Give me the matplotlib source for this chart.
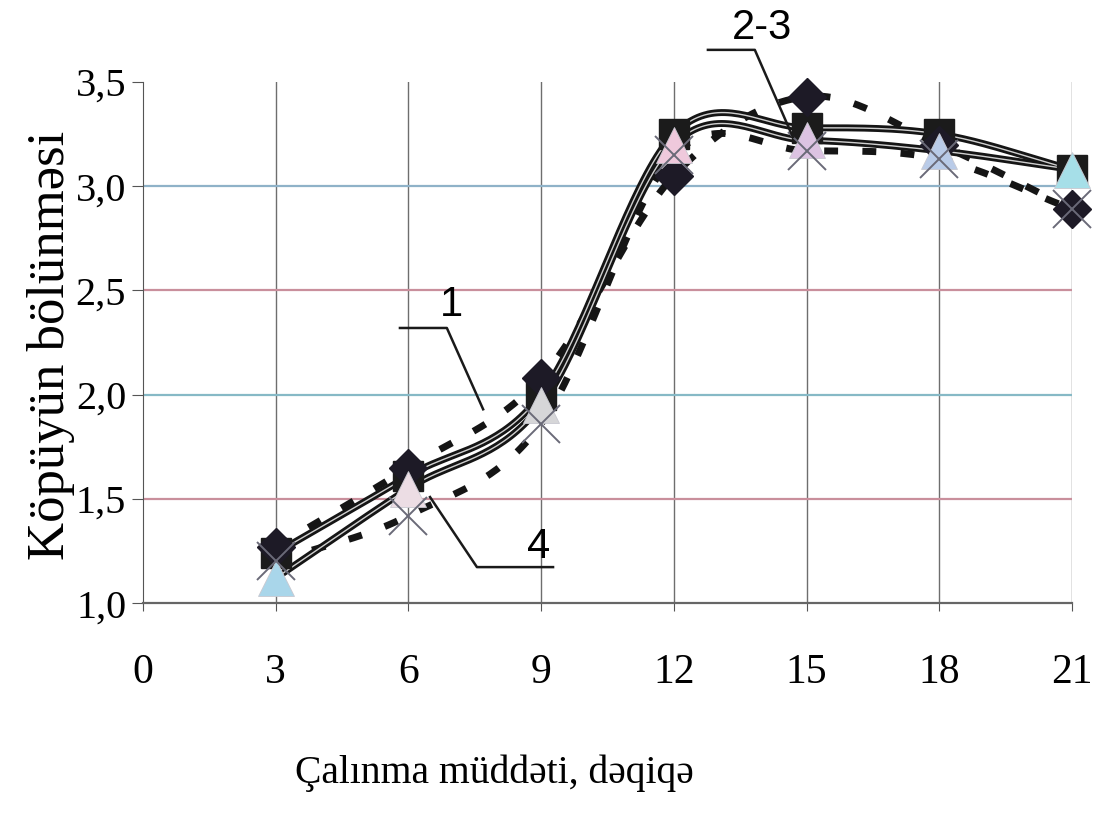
"""
Foam expansion vs. whipping time, four smoothed series.
"""

import matplotlib
matplotlib.use("Agg")
import matplotlib.pyplot as plt
import numpy as np

# --- Data ---
minutes = [3, 6, 9, 12, 15, 18, 21]
series_1 = [1.27, 1.65, 2.08, 3.05, 3.43, 3.20, 2.89]   # diamonds, dashed
series_2 = [1.24, 1.61, 2.00, 3.25, 3.28, 3.25, 3.08]   # squares, solid
series_3 = [1.12, 1.55, 1.95, 3.20, 3.22, 3.17, 3.08]   # triangles, solid
series_4 = [1.20, 1.42, 1.86, 3.15, 3.17, 3.13, 2.89]   # crosses, dashed

x_ticks = [0, 3, 6, 9, 12, 15, 18, 21]
y_ticks = [1.0, 1.5, 2.0, 2.5, 3.0, 3.5]
y_tick_labels = ["1,0", "1,5", "2,0", "2,5", "3,0", "3,5"]
grid_colors = {1.5: "#c98f9c", 2.0: "#86b9c6", 2.5: "#c98f9c", 3.0: "#8fb2c8"}
tri_colors = ["#a9d6ea", "#ecdde4", "#d6d6d8", "#efc9dc",
              "#dcc3e2", "#b9cbe8", "#a6dfe8"]

# curve labels: text, text pos, leader line points
labels = [
    ("1", (6.98, 2.43), [(5.81, 2.32), (6.87, 2.32), (7.69, 1.93)]),
    ("2-3", (14.0, 3.76), [(12.77, 3.654), (13.83, 3.654), (14.69, 3.236)]),
    ("4", (8.95, 1.27), [(9.27, 1.173), (7.55, 1.173), (6.49, 1.509)]),
]

SERIF = "Liberation Serif"
SANS = "Liberation Sans"


def _smooth(x, y, n=40):
    # Catmull-Rom curve through the points (Excel-like smoothed line)
    x = np.asarray(x, float)
    y = np.asarray(y, float)
    m = np.zeros_like(y)
    m[1:-1] = (y[2:] - y[:-2]) / (x[2:] - x[:-2])
    m[0] = (y[1] - y[0]) / (x[1] - x[0])
    m[-1] = (y[-1] - y[-2]) / (x[-1] - x[-2])
    xs, ys = [], []
    for i in range(len(x) - 1):
        h = x[i + 1] - x[i]
        t = np.linspace(0, 1, n)
        h00 = 2 * t**3 - 3 * t**2 + 1
        h10 = t**3 - 2 * t**2 + t
        h01 = -2 * t**3 + 3 * t**2
        h11 = t**3 - t**2
        xs.append(x[i] + t * h)
        ys.append(h00 * y[i] + h10 * h * m[i] + h01 * y[i + 1] + h11 * h * m[i + 1])
    return np.concatenate(xs), np.concatenate(ys)


fig = plt.figure(figsize=(10.99, 8.14), dpi=100)
ax = fig.add_axes([0.130, 0.259, 0.8455, 0.6403])

# --- grid ---
for xv in x_ticks[1:]:
    ax.axvline(xv, color="#6e6e6e", lw=1.0, zorder=1)
for yv, c in grid_colors.items():
    ax.axhline(yv, color=c, lw=1.6, zorder=1)

# --- lines ---
for ys in (series_2, series_3):
    sx, sy = _smooth(minutes, ys)
    ax.plot(sx, sy, color="#151515", lw=5, solid_capstyle="round",
            clip_on=False, zorder=3)
    ax.plot(sx, sy, color="white", lw=1.0, alpha=0.8, clip_on=False, zorder=3.1)

for ys in (series_1, series_4):
    sx, sy = _smooth(minutes, ys)
    ax.plot(sx, sy, color="#151515", lw=5, linestyle=(0, (2, 3.5)),
            clip_on=False, zorder=3)

# --- markers ---
ax.plot(minutes, series_2, "s", color="#1b1b1b", ms=21, clip_on=False, zorder=4)
ax.plot(minutes, series_1, "D", color="#1d1a26", ms=19, clip_on=False, zorder=4.1)
for xv, yv, c in zip(minutes, series_3, tri_colors):
    ax.plot(xv, yv, "^", color=c, ms=26, mec="#c8c8d0", mew=0.6,
            clip_on=False, zorder=5)
ax.plot(minutes, series_4, "x", color="#6a6a78", ms=27, mew=1.4,
        clip_on=False, zorder=6)

# --- curve labels ---
for txt, (tx, ty), pts in labels:
    px, py = zip(*pts)
    ax.plot(px, py, color="#1a1a1a", lw=1.8, clip_on=False, zorder=7)
    ax.text(tx, ty, txt, family=SANS, fontsize=30, ha="center", va="center",
            clip_on=False, zorder=7)

# --- axes ---
ax.set_xlim(0, 21)
ax.set_ylim(1.0, 3.5)
ax.set_xticks(x_ticks)
ax.set_xticklabels([str(v) for v in x_ticks], family=SERIF, fontsize=30)
ax.set_yticks(y_ticks)
ax.set_yticklabels(y_tick_labels, family=SERIF, fontsize=29)
ax.tick_params(axis="x", length=6, pad=30, color="#555555")
ax.tick_params(axis="y", length=8, pad=4, color="#555555")
for side in ("top", "right"):
    ax.spines[side].set_visible(False)
ax.spines["left"].set_color("#555555")
ax.spines["bottom"].set_color("#666666")
ax.spines["bottom"].set_linewidth(1.6)

fig.text(0.450, 0.050, "Çalınma müddəti, dəqiqə", family=SERIF, fontsize=28.5,
         ha="center", va="center")
fig.text(0.046, 0.576, "Köpüyün bölünməsi", family=SERIF, fontsize=38,
         ha="center", va="center", rotation=90)

fig.savefig("out.png", dpi=100)
